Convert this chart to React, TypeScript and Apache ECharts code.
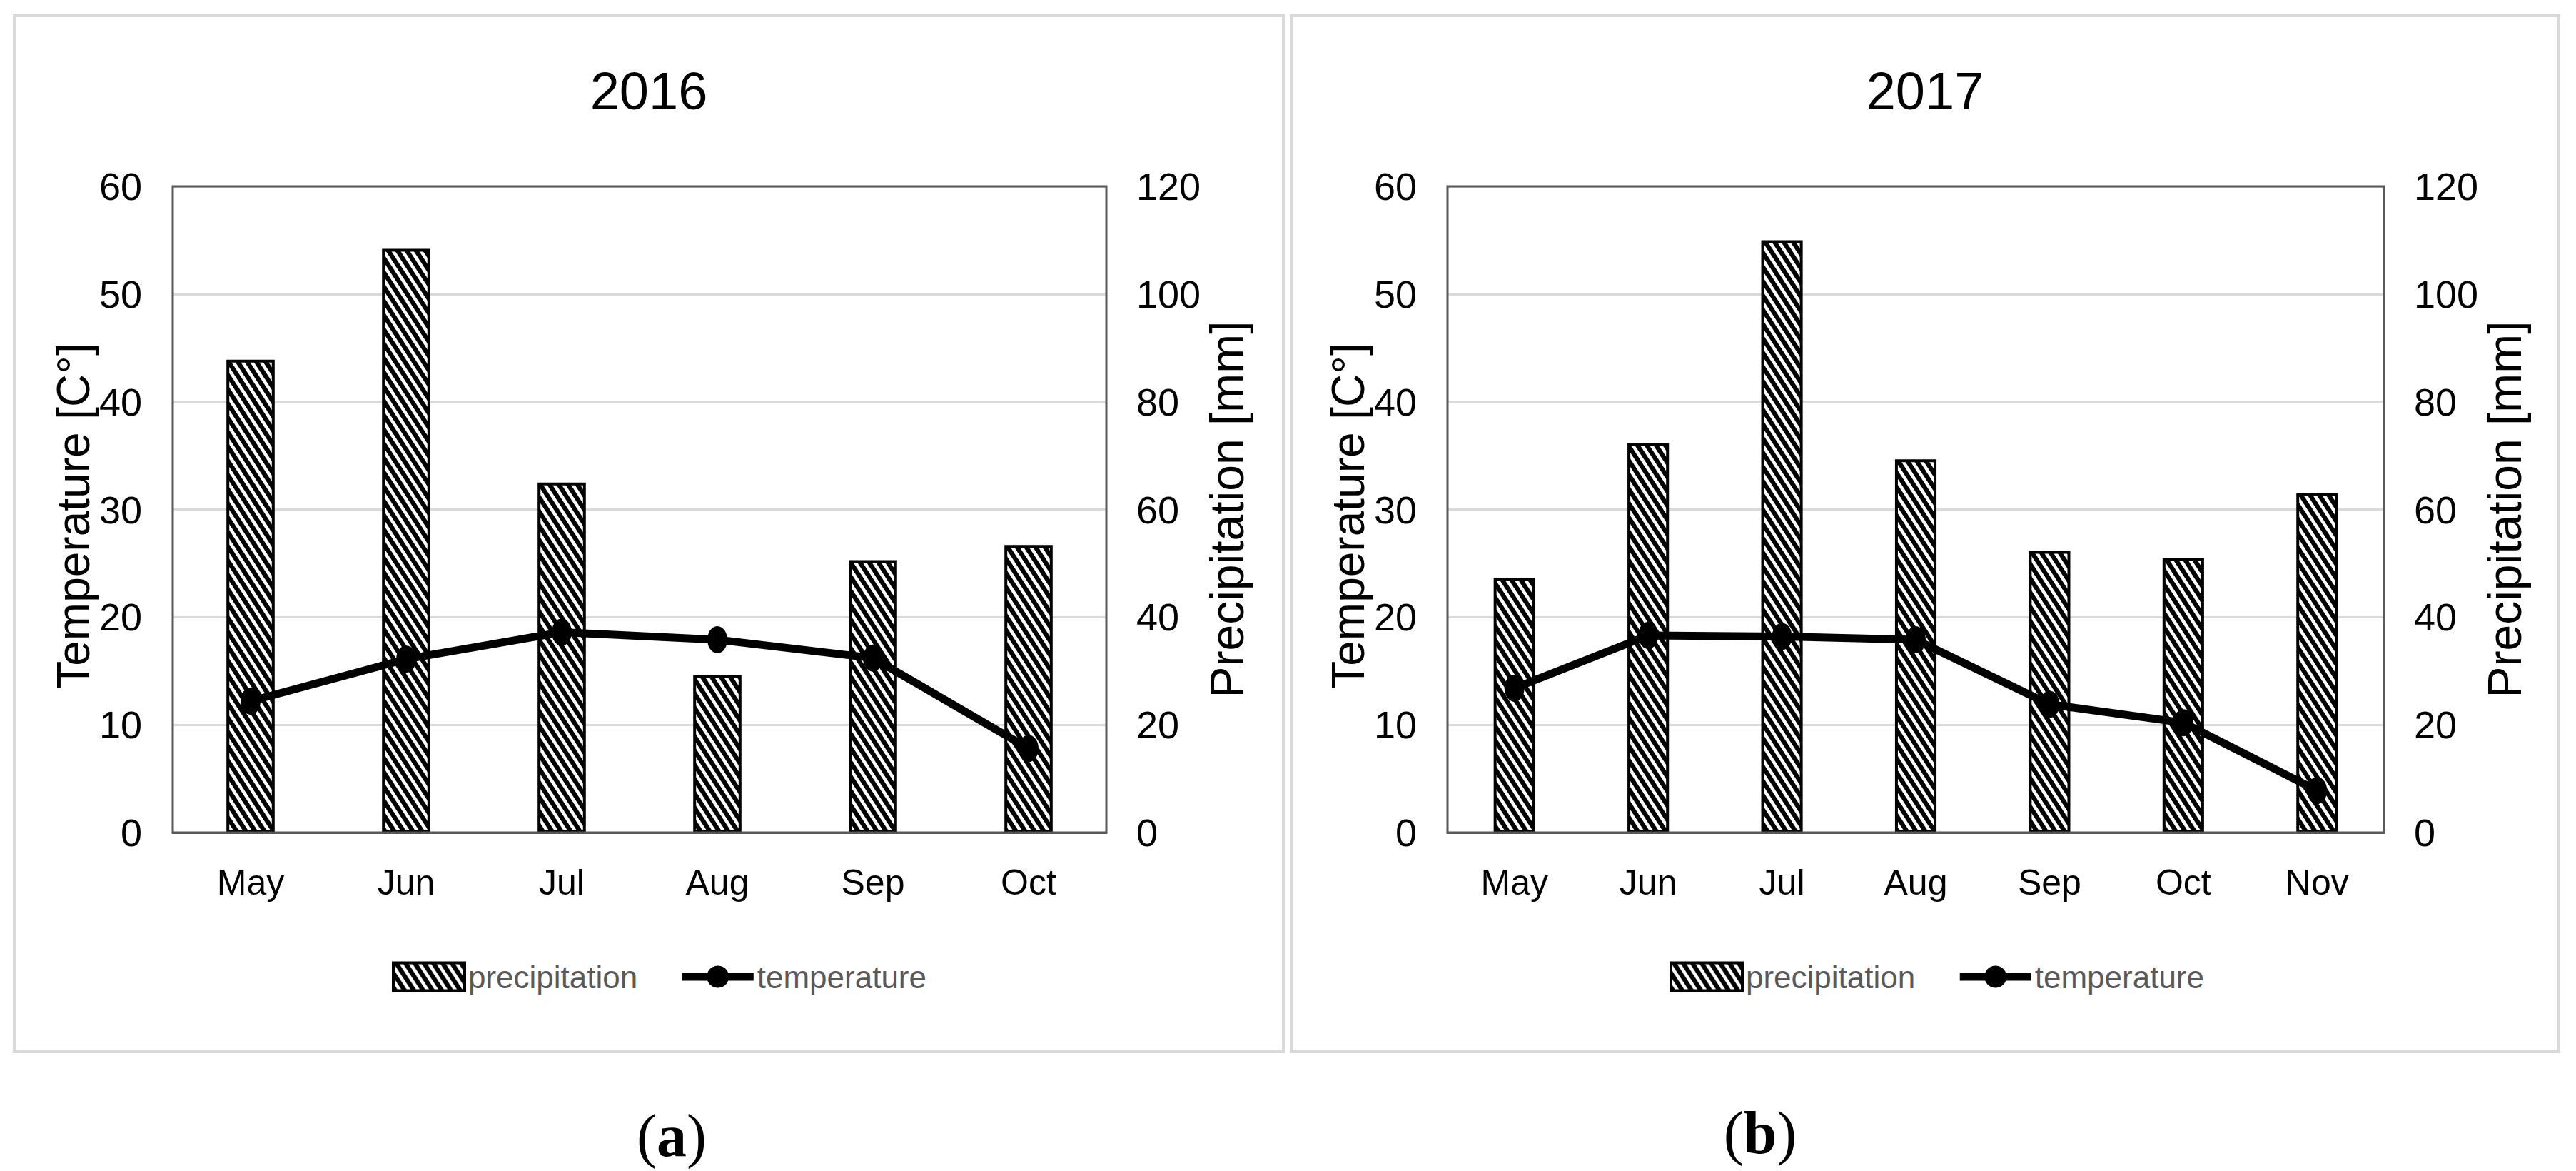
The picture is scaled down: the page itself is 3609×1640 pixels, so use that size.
import React, { useEffect, useRef } from 'react';
import * as echarts from 'echarts';

// ---------- data ----------
const months2016 = ['May', 'Jun', 'Jul', 'Aug', 'Sep', 'Oct'];
const precipitation2016 = [87.8, 108.4, 65.0, 29.2, 50.6, 53.4];
const temperature2016 = [12.2, 16.1, 18.6, 17.9, 16.2, 7.8];

const months2017 = ['May', 'Jun', 'Jul', 'Aug', 'Sep', 'Oct', 'Nov'];
const precipitation2017 = [47.3, 72.3, 110.0, 69.3, 52.3, 51.0, 63.0];
const temperature2017 = [13.4, 18.3, 18.2, 17.9, 11.9, 10.2, 3.9];

const panelTitles = ['2016', '2017'];
const panelLetters = ['a', 'b'];
const seriesNames = ['precipitation', 'temperature'];
const temperatureAxis = { min: 0, max: 60, interval: 10, name: 'Temperature [C°]' };
const precipitationAxis = { min: 0, max: 120, interval: 20, name: 'Precipitation [mm]' };

// ---------- styling / layout ----------
const SANS = '"Liberation Sans", Arial, sans-serif';
const SERIF = '"Liberation Serif", "Times New Roman", serif';

const panelLayouts = [
  {
    grid: { left: 242, top: 261, width: 1308, height: 905 },
    border: { x: 20, y: 22, width: 1778, height: 1451 },
    legendLeft: 549,
    titleX: 909,
    letterX: 941,
    letterY: 1590,
  },
  {
    grid: { left: 2028, top: 261, width: 1312, height: 905 },
    border: { x: 1809, y: 22, width: 1776, height: 1451 },
    legendLeft: 2339,
    titleX: 2697,
    letterX: 2466,
    letterY: 1586,
  },
];

function makeHatch(): HTMLCanvasElement {
  const W = 13;
  const H = 20;
  const S = 4;
  const c = document.createElement('canvas');
  c.width = W;
  c.height = H;
  const ctx = c.getContext('2d') as CanvasRenderingContext2D;
  const img = ctx.createImageData(W, H);
  for (let y = 0; y < H; y++) {
    for (let x = 0; x < W; x++) {
      let cov = 0;
      for (let i = 0; i < S; i++) {
        for (let j = 0; j < S; j++) {
          const px = x + (i + 0.5) / S;
          const py = y + (j + 0.5) / S;
          let u = (px - (py * W) / H) % W;
          if (u < 0) u += W;
          if (u < W * 0.58) cov++;
        }
      }
      const v = Math.round(255 * (1 - cov / (S * S)));
      const k = (y * W + x) * 4;
      img.data[k] = v;
      img.data[k + 1] = v;
      img.data[k + 2] = v;
      img.data[k + 3] = 255;
    }
  }
  ctx.putImageData(img, 0, 0);
  return c;
}

export default function App() {
  const ref = useRef<HTMLDivElement>(null);

  useEffect(() => {
    if (!ref.current) return;
    const chart = echarts.init(ref.current, null, { renderer: 'svg' });
    const hatchCanvas = makeHatch();
    const hatch: any = {
      image: hatchCanvas,
      imageWidth: hatchCanvas.width,
      imageHeight: hatchCanvas.height,
      repeat: 'repeat',
    };

    const panels = [
      { months: months2016, precip: precipitation2016, temp: temperature2016 },
      { months: months2017, precip: precipitation2017, temp: temperature2017 },
    ];

    const grid: any[] = [];
    const xAxis: any[] = [];
    const yAxis: any[] = [];
    const series: any[] = [];
    const legend: any[] = [];
    const graphic: any[] = [];

    panels.forEach((p, i) => {
      const L = panelLayouts[i];
      grid.push({
        ...L.grid,
        show: true,
        z: 3,
        backgroundColor: 'transparent',
        borderColor: '#595959',
        borderWidth: 3,
      });
      xAxis.push({
        type: 'category',
        gridIndex: i,
        data: p.months,
        axisLine: { show: true, lineStyle: { color: '#595959', width: 3 } },
        axisTick: { show: false },
        axisLabel: { fontSize: 50, color: '#000', margin: 45, fontFamily: SANS },
        splitLine: { show: false },
      });
      yAxis.push({
        type: 'value',
        gridIndex: i,
        position: 'left',
        min: temperatureAxis.min,
        max: temperatureAxis.max,
        interval: temperatureAxis.interval,
        name: temperatureAxis.name,
        nameLocation: 'middle',
        nameRotate: 90,
        nameGap: 77,
        nameTextStyle: { fontSize: 64, color: '#000', fontFamily: SANS, padding: [0, 18, 0, 0] },
        axisLine: { show: false },
        axisTick: { show: false },
        axisLabel: { fontSize: 54, color: '#000', margin: 43, fontFamily: SANS },
        splitLine: { show: true, lineStyle: { color: '#d9d9d9', width: 3 } },
      });
      yAxis.push({
        type: 'value',
        gridIndex: i,
        position: 'right',
        min: precipitationAxis.min,
        max: precipitationAxis.max,
        interval: precipitationAxis.interval,
        name: precipitationAxis.name,
        nameLocation: 'middle',
        nameRotate: 90,
        nameGap: 104,
        nameTextStyle: { fontSize: 66, color: '#000', fontFamily: SANS },
        axisLine: { show: false },
        axisTick: { show: false },
        axisLabel: { fontSize: 54, color: '#000', margin: 42, fontFamily: SANS },
        splitLine: { show: false },
      });
      series.push({
        type: 'bar',
        name: seriesNames[0],
        xAxisIndex: i,
        yAxisIndex: 2 * i + 1,
        data: p.precip,
        barWidth: '31%',
        itemStyle: { color: hatch, borderColor: '#000', borderWidth: 4 },
        z: 2,
      });
      series.push({
        type: 'line',
        name: seriesNames[1],
        xAxisIndex: i,
        yAxisIndex: 2 * i,
        data: p.temp,
        symbol: 'circle',
        symbolSize: [28, 38],
        lineStyle: { color: '#000', width: 11 },
        itemStyle: { color: '#000' },
        z: 4,
      });
      legend.push({
        left: L.legendLeft,
        top: 1346,
        padding: 0,
        orient: 'horizontal',
        itemWidth: 100,
        itemHeight: 39,
        itemGap: 57,
        textStyle: { fontSize: 44, color: '#595959', fontFamily: SANS },
        data: [
          { name: seriesNames[0], icon: 'rect', itemStyle: { borderColor: '#000', borderWidth: 4 } },
          {
            name: seriesNames[1],
            lineStyle: { color: '#000', width: 11 },
            itemStyle: { color: '#000' },
          },
        ],
      });
      graphic.push({
        type: 'rect',
        silent: true,
        shape: { ...L.border },
        style: { fill: 'none', stroke: '#d9d9d9', lineWidth: 4 },
      });
      graphic.push({
        type: 'text',
        x: L.titleX,
        y: 127,
        silent: true,
        style: {
          text: panelTitles[i],
          fontSize: 74,
          fontFamily: SANS,
          fill: '#000',
          align: 'center',
          verticalAlign: 'middle',
        },
      });
      graphic.push({
        type: 'text',
        x: L.letterX,
        y: L.letterY,
        silent: true,
        style: {
          text: '{p|(}{b|' + panelLetters[i] + '}{p|)}',
          align: 'center',
          verticalAlign: 'middle',
          rich: {
            p: { fontSize: 84, fontFamily: SERIF, fill: '#000' },
            b: { fontSize: 84, fontFamily: SERIF, fontWeight: 'bold', fill: '#000' },
          },
        },
      });
    });

    chart.setOption({
      animation: false,
      backgroundColor: '#fff',
      textStyle: { fontFamily: SANS },
      grid,
      xAxis,
      yAxis,
      series,
      legend,
      graphic,
    });

    return () => {
      chart.dispose();
    };
  }, []);

  return (
    <div
      ref={ref}
      style={{ position: 'absolute', left: 0, top: 0, width: 3609, height: 1640 }}
    />
  );
}
